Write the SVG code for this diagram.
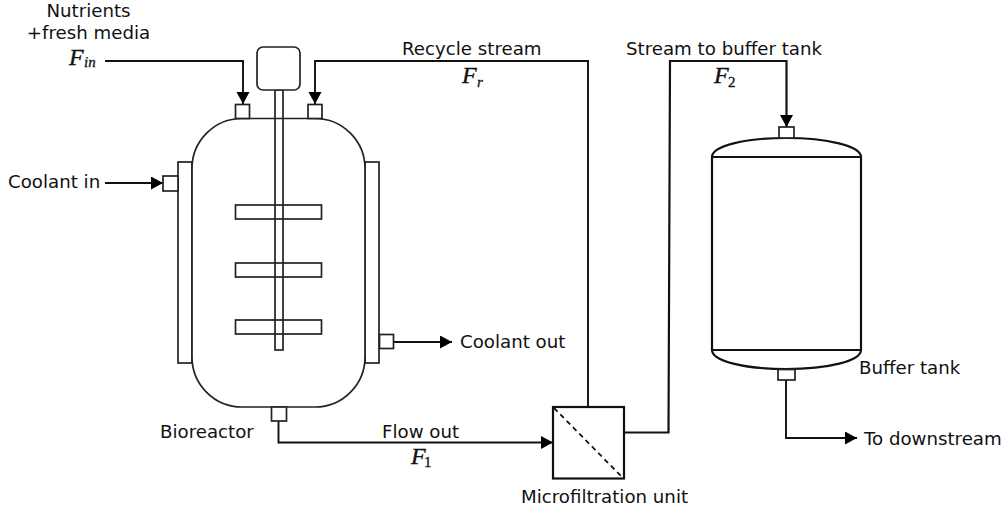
<svg xmlns="http://www.w3.org/2000/svg" width="1005" height="509" viewBox="0 0 1005 509">
<style>
.s{fill:#fff;stroke:#222;stroke-width:1.7}
.n{fill:none;stroke:#222;stroke-width:1.7}
.h{fill:#fff;stroke:#111;stroke-width:2.2}
.c{fill:none;stroke:#111;stroke-width:1.9}
.t{font-family:"DejaVu Sans",sans-serif;font-size:18.2px;fill:#111}
.m{font-family:"Liberation Serif",serif;font-style:italic;font-size:24px;fill:#111;stroke:#111;stroke-width:.4}
.b{font-family:"Liberation Serif",serif;font-style:italic;font-size:15px;fill:#111;stroke:#111;stroke-width:.3}
.u{font-family:"Liberation Serif",serif;font-size:15px;fill:#111;stroke:#111;stroke-width:.3}
</style>
<defs>
<marker id="a" markerUnits="userSpaceOnUse" markerWidth="13" markerHeight="14" refX="12" refY="6.500" orient="auto"><path d="M0 0L12 6.500L0 13z" fill="#000"/></marker>
</defs>
<rect width="1005" height="509" fill="#fff"/>
<g id="connectors">
<path class="c" d="M105 61H243V104" marker-end="url(#a)"/>
<path class="c" d="M588 407V61H315V104" marker-end="url(#a)"/>
<path class="c" d="M105 183H163" marker-end="url(#a)"/>
<path class="c" d="M394 342H452" marker-end="url(#a)"/>
<path class="c" d="M278.500 421V442.500H553" marker-end="url(#a)"/>
<path class="c" style="stroke-width:2.200" d="M624 432.500H668.500L670 61H786.500V127" marker-end="url(#a)"/>
<path class="c" d="M786 380V438H857" marker-end="url(#a)"/>
</g>
<g id="bioreactor">
<rect class="s" x="178" y="162" width="14" height="201"/>
<rect class="s" x="365" y="162" width="14" height="201"/>
<rect class="s" x="192" y="118.500" width="173" height="288.500" rx="50" ry="50"/>
<rect class="n" x="275" y="90" width="8" height="260"/>
<rect class="n" x="235.500" y="205" width="86" height="14"/>
<rect class="n" x="235.500" y="263" width="86" height="14"/>
<rect class="n" x="235.500" y="320" width="86" height="14"/>
<rect class="s" x="257" y="47" width="43" height="43" rx="6"/>
<rect class="s" x="235.500" y="104.500" width="14" height="14"/>
<rect class="s" x="308" y="104.500" width="14" height="14"/>
<rect class="s" x="163" y="176" width="15" height="15"/>
<rect class="s" x="379.500" y="334.500" width="14" height="14"/>
<rect class="s" x="271.500" y="407" width="15" height="14"/>
<text class="t" x="160" y="438">Bioreactor</text>
</g>
<g id="filter">
<rect class="h" x="553" y="407" width="71" height="71.500"/>
<path d="M554 408L623 478" stroke="#111" stroke-width="1.800" stroke-dasharray="5 4" fill="none"/>
<text class="t" x="521" y="503">Microfiltration unit</text>
</g>
<g id="tank">
<path class="h" d="M712 157C712 146 745 138 786 138S861 146 861 157V350C861 361 828 369 786 369S712 361 712 350Z"/>
<path class="h" d="M712 157H861M712 350H861"/>
<rect class="s" x="779" y="127" width="15" height="11"/>
<rect class="s" x="778" y="369.500" width="17" height="10.500"/>
<text class="t" x="859" y="374">Buffer tank</text>
</g>
<g id="labels">
<text class="t" x="88.500" y="17" text-anchor="middle">Nutrients</text>
<text class="t" x="88.500" y="39" text-anchor="middle">+fresh media</text>
<text class="m" x="69" y="65">F</text><text class="b" x="84" y="67">in</text>
<text class="t" x="8" y="188">Coolant in</text>
<text class="t" x="460" y="348">Coolant out</text>
<text class="t" x="402" y="55">Recycle stream</text>
<text class="m" x="462" y="83">F</text><text class="b" x="477" y="87">r</text>
<text class="t" x="626" y="55">Stream to buffer tank</text>
<text class="m" x="714" y="83">F</text><text class="u" x="728" y="87">2</text>
<text class="t" x="382" y="438">Flow out</text>
<text class="m" x="411" y="464">F</text><text class="u" x="424" y="467">1</text>
<text class="t" x="864" y="445">To downstream</text>
</g>
</svg>
